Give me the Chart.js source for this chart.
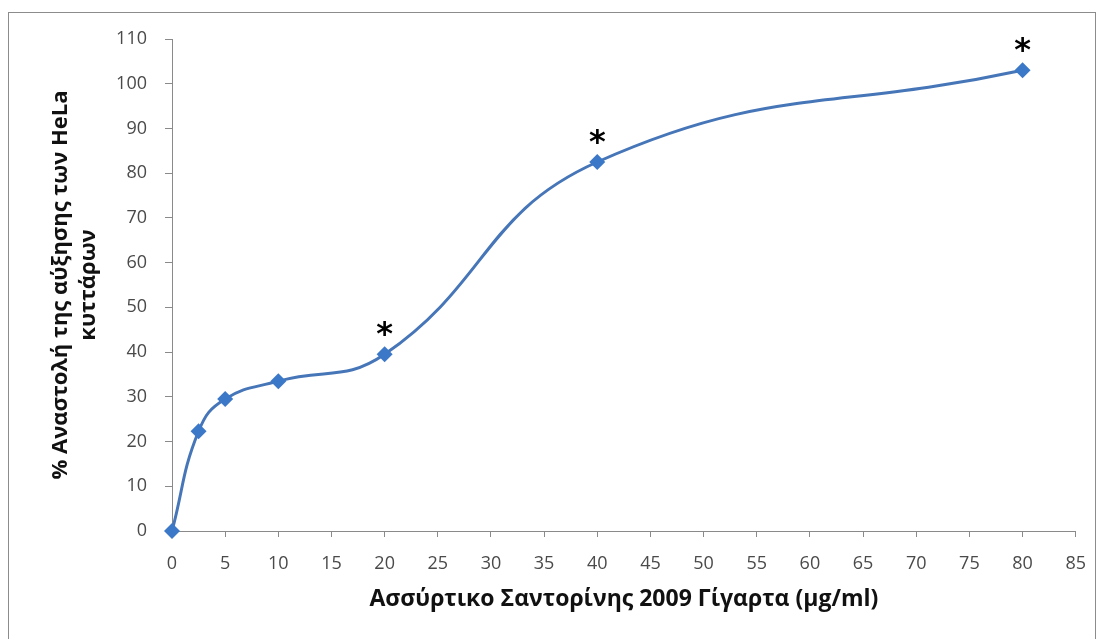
<!DOCTYPE html>
<html>
<head>
<meta charset="utf-8">
<script src="https://cdn.jsdelivr.net/npm/chart.js@4"></script>
<style>
    html, body { margin: 0; padding: 0; background: #ffffff; }
    #wrap { position: relative; width: 1102px; height: 639px; overflow: hidden; }
    #frame {
        position: absolute; left: 8px; top: 12px; width: 1088px; height: 700px;
        border: 1px solid #8c8c8c; box-sizing: border-box;
    }
    #chart { position: absolute; left: 0; top: 0; }
</style>
</head>
<body>
<div id="wrap">
    <div id="frame"></div>
    <canvas id="chart" width="1102" height="639"></canvas>
</div>
<script>
// Data
const doses = [0, 2.5, 5, 10, 20, 40, 80];                 // μg/ml
const inhibition = [0, 22.3, 29.5, 33.5, 39.5, 82.5, 103];  // %
const significantDoses = [20, 40, 80];                      // marked with *

const xTitle = 'Ασσύρτικο Σαντορίνης 2009 Γίγαρτα (μg/ml)';
const yTitle = ['% Αναστολή της αύξησης των HeLa', 'κυττάρων'];

const lineColor = '#4676b8';
const markerColor = '#3c78c8';
const axisColor = '#8a8a8a';
const tickColor = '#4a4a4a';

// Draws the significance asterisks above the marked points
const asteriskPlugin = {
    id: 'asterisks',
    afterDatasetsDraw(chart) {
        const ctx = chart.ctx;
        const xScale = chart.scales.x;
        const yScale = chart.scales.y;
        ctx.save();
        ctx.fillStyle = '#000000';
        ctx.font = 'bold 32px "DejaVu Sans"';
        ctx.textAlign = 'center';
        ctx.textBaseline = 'alphabetic';
        significantDoses.forEach(d => {
            const i = doses.indexOf(d);
            const px = xScale.getPixelForValue(d);
            const py = yScale.getPixelForValue(inhibition[i]);
            ctx.fillText('*', px, py - 10);
        });
        ctx.restore();
    }
};

const ctx = document.getElementById('chart').getContext('2d');
new Chart(ctx, {
    type: 'line',
    data: {
        datasets: [{
            data: doses.map((d, i) => ({ x: d, y: inhibition[i] })),
            borderColor: lineColor,
            borderWidth: 3,
            tension: 0.45,
            pointStyle: 'rectRot',
            pointRadius: 8,
            pointBackgroundColor: markerColor,
            pointBorderWidth: 0,
            clip: false
        }]
    },
    options: {
        responsive: false,
        animation: false,
        devicePixelRatio: 1,
        layout: {
            padding: { left: 0, top: 39, right: 25, bottom: 0 }
        },
        plugins: {
            legend: { display: false },
            tooltip: { enabled: false }
        },
        scales: {
            x: {
                type: 'linear',
                min: 0,
                max: 85,
                afterFit: (scale) => { scale.height = 108; },
                ticks: {
                    stepSize: 5,
                    padding: 16,
                    color: tickColor,
                    font: { family: 'Open Sans', size: 18 }
                },
                grid: {
                    drawOnChartArea: false,
                    color: axisColor,
                    tickLength: 6
                },
                border: { color: axisColor, width: 1 },
                title: {
                    display: true,
                    text: xTitle,
                    color: '#111111',
                    padding: { top: 0, bottom: 26 },
                    font: { family: 'Open Sans', size: 23, weight: 'bold' }
                }
            },
            y: {
                min: 0,
                max: 110,
                afterFit: (scale) => { scale.width = 172; },
                ticks: {
                    stepSize: 10,
                    padding: 18,
                    color: tickColor,
                    font: { family: 'Open Sans', size: 18 }
                },
                grid: {
                    drawOnChartArea: false,
                    color: axisColor,
                    tickLength: 7
                },
                border: { color: axisColor, width: 1 },
                title: {
                    display: true,
                    text: yTitle,
                    color: '#111111',
                    padding: { top: 47, bottom: 0 },
                    font: { family: 'Open Sans', size: 22, weight: 'bold', lineHeight: 28 / 22 }
                }
            }
        }
    },
    plugins: [asteriskPlugin]
});
</script>
</body>
</html>
